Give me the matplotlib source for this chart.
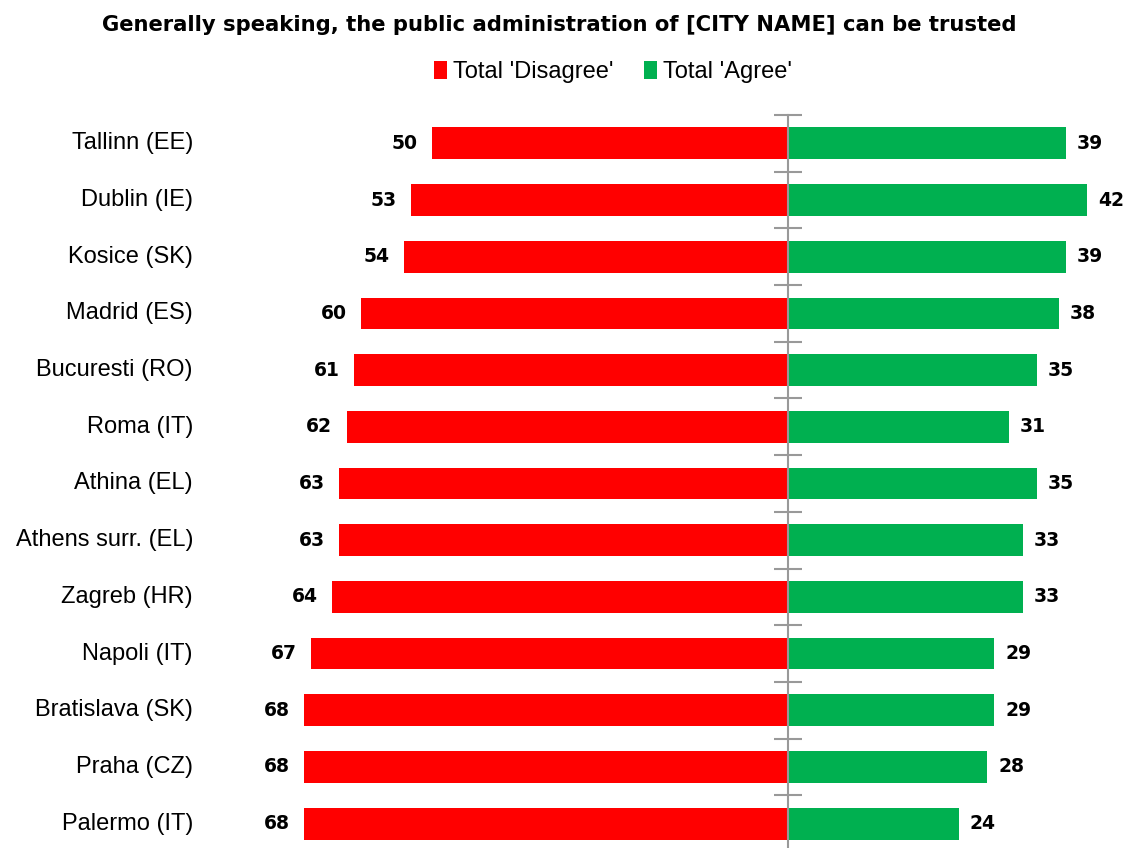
import matplotlib
matplotlib.use("Agg")
from matplotlib import pyplot as plt
from matplotlib.transforms import blended_transform_factory
import numpy as np

cities = ["Tallinn (EE)", "Dublin (IE)", "Kosice (SK)", "Madrid (ES)", "Bucuresti (RO)",
          "Roma (IT)", "Athina (EL)", "Athens surr. (EL)", "Zagreb (HR)", "Napoli (IT)",
          "Bratislava (SK)", "Praha (CZ)", "Palermo (IT)"]
disagree = [50, 53, 54, 60, 61, 62, 63, 63, 64, 67, 68, 68, 68]
agree = [39, 42, 39, 38, 35, 31, 35, 33, 33, 29, 29, 28, 24]

RED = "#FF0000"
GREEN = "#00B050"
LABEL_FONT = "Liberation Sans"

W, H = 1129, 848
fig = plt.figure(figsize=(W / 100, H / 100), dpi=100)

# axes in pixel coords: center line at x=788, 7.12 px per unit
ax_left, ax_right = 210, 1125
ax_top, ax_bot = 115, 852
scale = 7.12
ax = fig.add_axes([ax_left / W, 1 - ax_bot / H, (ax_right - ax_left) / W, (ax_bot - ax_top) / H])
ax.set_xlim(-(788 - ax_left) / scale, (ax_right - 788) / scale)

n = len(cities)
y = np.arange(n)
ax.set_ylim(n - 0.5, -0.5)

ax.barh(y, [-d for d in disagree], height=0.56, color=RED, label="Total 'Disagree'")
ax.barh(y, agree, height=0.56, color=GREEN, label="Total 'Agree'")

for i in range(n):
    ax.text(-disagree[i] - 2, y[i], str(disagree[i]), ha="right", va="center",
            fontsize=13.5, fontweight="bold", family="DejaVu Sans")
    ax.text(agree[i] + 1.5, y[i], str(agree[i]), ha="left", va="center",
            fontsize=13.5, fontweight="bold", family="DejaVu Sans")

trans = blended_transform_factory(fig.transFigure, ax.transData)
for i, c in enumerate(cities):
    ax.text(193 / W, y[i], c, transform=trans, ha="right", va="center",
            fontsize=17, family=LABEL_FONT)

for s in ["top", "right", "bottom"]:
    ax.spines[s].set_visible(False)
ax.spines["left"].set_position(("data", 0))
ax.spines["left"].set_color("#999999")
ax.spines["left"].set_linewidth(1.5)
ax.set_yticks(np.arange(n + 1) - 0.5)
ax.set_yticklabels([])
ax.tick_params(axis="y", direction="inout", length=20, width=1.5, color="#999999")
ax.set_xticks([])

fig.text(559 / W, 1 - 25 / H, "Generally speaking, the public administration of [CITY NAME] can be trusted",
         ha="center", va="center", fontsize=15.2, fontweight="bold", family="DejaVu Sans")

fig.legend(loc="center", bbox_to_anchor=(613 / W, 1 - 72 / H), ncol=2, frameon=False,
           handlelength=0.55, handleheight=0.8, handletextpad=0.25, columnspacing=1.3,
           prop={"family": LABEL_FONT, "size": 17})

fig.savefig("out.png", dpi=100)
